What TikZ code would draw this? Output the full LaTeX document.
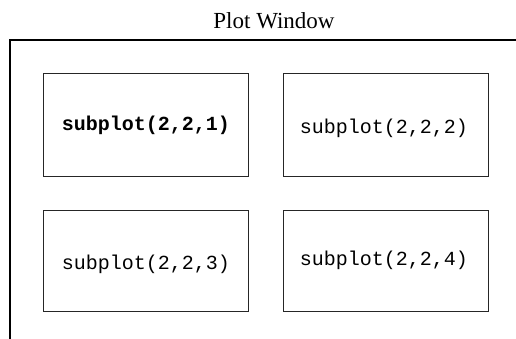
\documentclass[tikz,border=0pt]{standalone}
\usepackage{fontspec}
\setmainfont{Liberation Serif}
\setmonofont{Liberation Mono}
\begin{document}
\begin{tikzpicture}[x=1pt,y=-1pt,
  panel/.style={draw=black!85, line width=0.9pt},
  frameline/.style={draw=black, line width=1.2pt},
  label/.style={font=\fontsize{20}{24}\selectfont\ttfamily, inner sep=0pt},
  title/.style={font=\fontsize{23}{27}\selectfont, inner sep=0pt, anchor=base}]
  \useasboundingbox (0,0) rectangle (516,339);
  % window title
  \node[title] (ttl) at (274,28.3) {Plot Window};
  % window frame (top and left edges)
  \coordinate (fl) at (10,339);
  \coordinate (fc) at (10,40);
  \coordinate (fr) at (516,40);
  \draw[frameline] (fl) -- (fc) -- (fr);
  % the four subplot panels
  \draw[panel] (43.5,73) rectangle (248.5,176);
  \draw[panel] (283,73) rectangle (488,176);
  \draw[panel] (43.5,210) rectangle (248.5,311.7);
  \draw[panel] (283,210) rectangle (488,311.7);
  \node[label, font=\fontsize{20}{24}\selectfont\ttfamily\bfseries] (s1) at (146,125) {subplot(2,2,1)};
  \node[label] (s2) at (384,128) {subplot(2,2,2)};
  \node[label] (s3) at (146,264) {subplot(2,2,3)};
  \node[label] (s4) at (384,260) {subplot(2,2,4)};
\end{tikzpicture}
\end{document}
